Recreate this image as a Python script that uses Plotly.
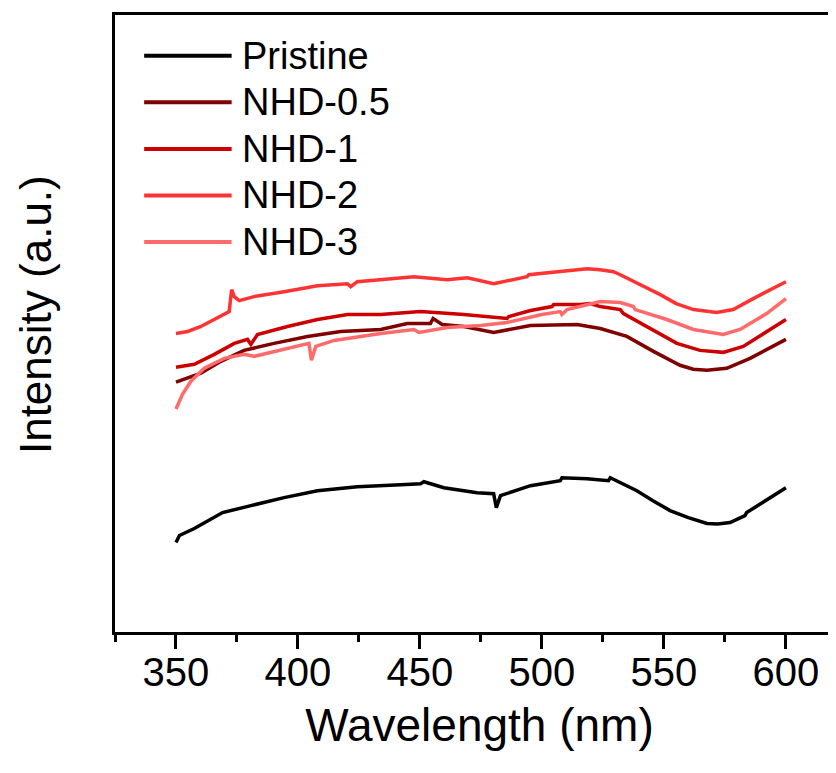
import plotly.graph_objects as go

# ---- data (intensity in arbitrary units) ----
pristine_wl = [350, 351.4, 357.5, 369.1, 380.7, 394.3, 408.0, 424.3, 442.1, 450.2, 451.6, 459.8,
               470.7, 473.4, 480.2, 481.3, 483.0, 495.3, 507.5, 508.2, 518.5, 527.3, 528.0,
               538.9, 545.5, 552.5, 560.0, 567.6, 572.0, 577.1, 583.2, 583.9, 600]
pristine_y = [90, 97, 104, 120, 127, 135, 142, 146, 148, 149, 151, 145,
              141, 140, 139, 125, 137, 147, 152, 155, 154, 152, 155,
              142, 132, 122, 115, 109, 108.5, 110, 117, 120, 145]

nhd05_wl = [350, 353.4, 360.2, 368.4, 377.9, 390.2, 403.9, 417.5, 433.9, 444.8, 454.3, 455.4,
            459.1, 468.0, 480.2, 495.3, 514.4, 523.9, 534.8, 545.7, 556.6, 562.0, 567.6,
            575.7, 585.3, 600]
nhd05_y = [251, 254, 260, 272, 283, 290, 297, 302, 304, 310, 310, 315,
           309, 307, 301, 308, 309, 305, 297, 282, 268, 264, 263,
           265, 275, 294]

nhd1_wl = [350, 357.5, 365.7, 373.9, 379.3, 380.7, 383.4, 395.7, 408.0, 420.3, 433.9, 450.2,
           468.0, 485.7, 486.4, 495.3, 504.1, 504.8, 515.7, 519.8, 523.9, 532.1, 533.4,
           544.4, 555.3, 564.8, 574.3, 582.5, 600]
nhd1_y = [266, 269, 279, 290, 294, 289, 299, 307, 314, 319, 319, 322,
          319, 315, 317, 323, 327, 329, 329, 330, 327, 324, 320,
          305, 290, 283, 281, 287, 314]

nhd2_wl = [350, 354.8, 360.2, 367.1, 371.8, 372.8, 373.9, 375.9, 379.3, 382.0, 394.3, 408.0,
           420.3, 421.6, 424.3, 433.9, 447.5, 461.2, 469.4, 480.2, 488.4, 493.9, 494.6,
           506.2, 518.5, 523.9, 529.3, 532.1, 540.3, 548.5, 555.0, 562.1, 571.6, 578.4,
           586.6, 600]
nhd2_y = [300, 302, 307, 316, 322, 344, 337, 333, 335, 337, 342, 348,
          350, 347, 352, 354, 357, 354, 356, 350, 354, 357, 359,
          362, 365, 364, 362, 359, 349, 339, 330, 324, 321, 324,
          335, 352]

nhd3_wl = [350, 352.7, 356.1, 361.6, 369.8, 377.9, 382.0, 387.5, 395.7, 404.5, 405.5, 407.3,
           414.8, 425.7, 433.9, 447.5, 449.6, 461.2, 474.8, 485.7, 500.0, 507.5, 508.2,
           510.3, 521.2, 523.9, 532.1, 537.5, 538.2, 551.2, 562.1, 574.3, 581.2, 592.1, 600]
nhd3_y = [224, 239, 252, 265, 275, 279, 277, 280, 285, 290, 273, 287,
          293, 297, 300, 304, 301, 306, 308, 311, 319, 322, 319,
          324, 330, 332, 331, 327, 324, 314, 304, 299, 304, 320, 335]

series_names = ["Pristine", "NHD-0.5", "NHD-1", "NHD-2", "NHD-3"]
series_x = [pristine_wl, nhd05_wl, nhd1_wl, nhd2_wl, nhd3_wl]
series_y = [pristine_y, nhd05_y, nhd1_y, nhd2_y, nhd3_y]
colors = ["#000000", "#800000", "#cc0000", "#ff3333", "#ff6b6b"]

x_ticks = [350, 400, 450, 500, 550, 600]

FONT = "Liberation Sans, Arial, sans-serif"

fig = go.Figure()
for name, xs, ys, c in zip(series_names, series_x, series_y, colors):
    fig.add_trace(go.Scatter(x=xs, y=ys, mode="lines", name=name,
                             line=dict(color=c, width=3.5), showlegend=False))

# legend drawn as line samples + text (inside the plot, top-left)
leg_x0, leg_x1, leg_tx = 0.040, 0.160, 0.171
leg_y0, leg_dy = 0.934, 0.0755
for i, (name, c) in enumerate(zip(series_names, colors)):
    yy = leg_y0 - i * leg_dy
    fig.add_shape(type="line", xref="paper", yref="paper",
                  x0=leg_x0, x1=leg_x1, y0=yy, y1=yy,
                  line=dict(color=c, width=4))
    fig.add_annotation(xref="paper", yref="paper", x=leg_tx, y=yy,
                       xanchor="left", yanchor="middle", showarrow=False,
                       text=name, font=dict(size=38, family=FONT, color="black"))

# y-axis title
fig.add_annotation(xref="paper", yref="paper", x=-0.11, y=0.515,
                   xanchor="center", yanchor="middle", showarrow=False,
                   textangle=-90, text="Intensity (a.u.)",
                   font=dict(size=44, family=FONT, color="black"))

fig.update_layout(
    width=836, height=773,
    margin=dict(l=107, r=0, t=7, b=149),
    paper_bgcolor="white", plot_bgcolor="white",
    font=dict(family=FONT, color="black"),
    showlegend=False,
    xaxis=dict(range=[325, 623.8], showgrid=False, zeroline=False,
               showline=True, linecolor="black", linewidth=2.5, mirror=True,
               ticks="outside", ticklen=14, tickwidth=2.5, tickcolor="black",
               tickvals=x_ticks, ticktext=[str(v) for v in x_ticks],
               tickfont=dict(size=40, family=FONT), ticklabelstandoff=-11,
               minor=dict(dtick=25, tick0=325, ticks="outside", ticklen=7,
                          tickwidth=2.5, tickcolor="black", showgrid=False),
               title=dict(text="Wavelength (nm)", font=dict(size=46, family=FONT),
                          standoff=17)),
    yaxis=dict(range=[0, 620], showgrid=False, zeroline=False,
               showline=True, linecolor="black", linewidth=2.5, mirror=False,
               ticks="", showticklabels=False),
)

fig.write_html("out.html")
